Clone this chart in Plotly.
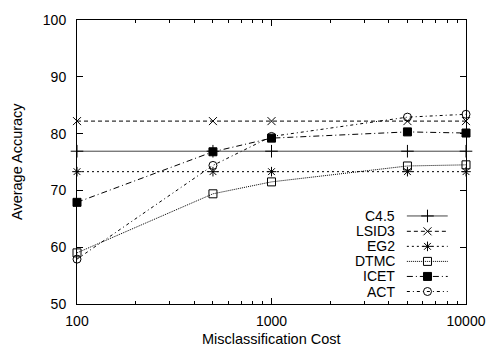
import plotly.graph_objects as go

# ---- data ----
costs = [100, 500, 1000, 5000, 10000]
c45 = [76.9, 76.9, 76.9, 76.9, 76.9]
lsid3 = [82.2, 82.2, 82.2, 82.2, 82.2]
eg2 = [73.3, 73.3, 73.3, 73.3, 73.3]
dtmc = [59.0, 69.4, 71.5, 74.3, 74.5]
icet = [67.9, 76.8, 79.2, 80.3, 80.1]
act = [57.9, 74.4, 79.5, 82.9, 83.4]

names = ["C4.5", "LSID3", "EG2", "DTMC", "ICET", "ACT"]
series = [c45, lsid3, eg2, dtmc, icet, act]

x_ticks = [100, 1000, 10000]
x_minor = [200, 300, 400, 500, 600, 700, 800, 900,
           2000, 3000, 4000, 5000, 6000, 7000, 8000, 9000]
y_ticks = [50, 60, 70, 80, 90, 100]

# ---- styles ----
styles = [
    dict(color="#444", dash="solid", symbol="cross-thin-open", size=9),
    dict(color="black", dash="4px,3px", symbol="x-thin-open", size=8),
    dict(color="black", dash="2px,3px", symbol="asterisk-open", size=8),
    dict(color="black", dash="1px,1px", symbol="square-open", size=8),
    dict(color="black", dash="6px,3px,1px,3px", symbol="square", size=8),
    dict(color="black", dash="3px,3px,1px,3px", symbol="circle-open", size=8),
]

FONT = "Liberation Sans, Arial, Helvetica, sans-serif"
FS = 14.5
fig = go.Figure()

for name, ys, st in zip(names, series, styles):
    fig.add_trace(go.Scatter(
        x=costs, y=ys, mode="lines+markers", name=name, showlegend=False,
        cliponaxis=False,
        line=dict(color=st["color"], width=1, dash=st["dash"]),
        marker=dict(symbol=st["symbol"], size=st["size"], color="black",
                    line=dict(color="black", width=1)),
    ))

# ---- custom gnuplot-style legend (text right, sample left) ----
leg_y = [0.310, 0.256, 0.203, 0.150, 0.097, 0.044]
leg_x0, leg_xm, leg_x1 = 0.848, 0.901, 0.953
for name, st, ly in zip(names, styles, leg_y):
    fig.add_trace(go.Scatter(
        x=[leg_x0, leg_xm, leg_x1], y=[ly, ly, ly], xaxis="x2", yaxis="y2",
        mode="lines", showlegend=False, hoverinfo="skip",
        line=dict(color=st["color"], width=1, dash=st["dash"]),
    ))
    fig.add_trace(go.Scatter(
        x=[leg_xm], y=[ly], xaxis="x2", yaxis="y2",
        mode="markers", showlegend=False, hoverinfo="skip",
        marker=dict(symbol=st["symbol"], size=st["size"], color="black",
                    line=dict(color="black", width=1)),
    ))
    fig.add_annotation(x=0.823, y=ly, xref="paper", yref="paper",
                       text=name, showarrow=False, xanchor="right",
                       yanchor="middle", font=dict(size=14, color="black", family=FONT))

fig.add_annotation(x=0.5, y=0, xref="paper", yref="paper",
                   text="Misclassification Cost", showarrow=False,
                   xanchor="center", yanchor="middle", yshift=-34.5,
                   font=dict(size=FS, color="black", family=FONT))
fig.add_annotation(x=0, y=0.5, xref="paper", yref="paper",
                   text="Average Accuracy", showarrow=False, textangle=-90,
                   xanchor="center", yanchor="middle", xshift=-60,
                   font=dict(size=FS, color="black", family=FONT))

fig.update_layout(
    width=498, height=347,
    margin=dict(l=77, r=22, t=18, b=43),
    paper_bgcolor="white", plot_bgcolor="white",
    font=dict(family=FONT, size=14, color="black"),
    xaxis=dict(type="log", range=[2, 4], tickmode="array", tickvals=x_ticks,
               ticktext=[str(v) for v in x_ticks],
               ticks="inside", ticklen=6, tickwidth=1, tickcolor="black",
               minor=dict(tickmode="array", tickvals=x_minor, ticks="inside",
                          ticklen=3, tickwidth=1, tickcolor="black", showgrid=False),
               showline=True, linecolor="black", linewidth=1, mirror="ticks",
               showgrid=False, zeroline=False, ticklabelstandoff=4),
    yaxis=dict(range=[50, 100], tickmode="array", tickvals=y_ticks,
               ticks="inside", ticklen=6, tickwidth=1, tickcolor="black",
               showline=True, linecolor="black", linewidth=1, mirror="ticks",
               showgrid=False, zeroline=False, ticklabelstandoff=7),
    xaxis2=dict(overlaying="x", range=[0, 1], visible=False, showgrid=False),
    yaxis2=dict(overlaying="y", range=[0, 1], visible=False, showgrid=False),
)

fig.write_html("out.html")
